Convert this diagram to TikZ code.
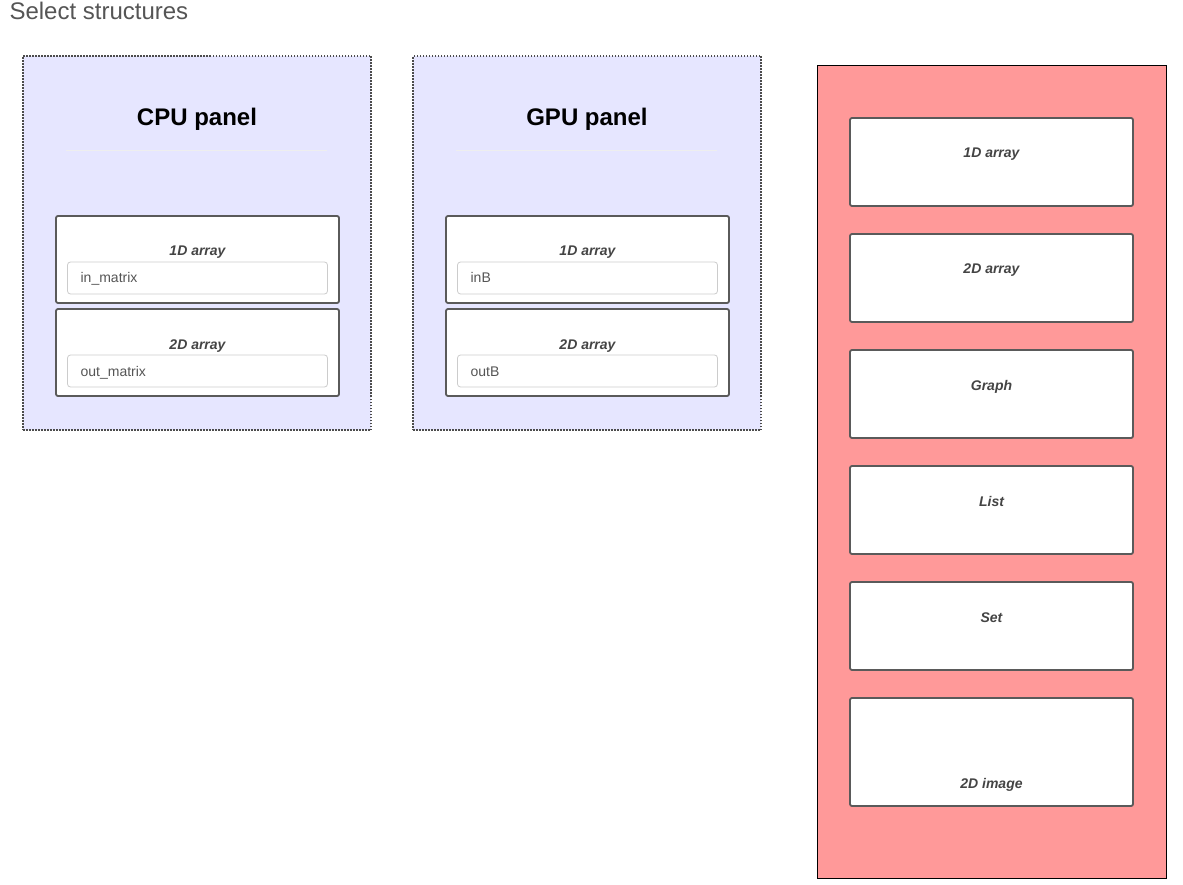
\documentclass[tikz,border=0pt]{standalone}
\usepackage{fontspec}
\setmainfont{Liberation Sans}
\usetikzlibrary{positioning}
\definecolor{panelblue}{HTML}{E6E6FF}
\definecolor{panelred}{HTML}{FF9999}
\definecolor{cardline}{HTML}{5A5A5A}
\definecolor{fieldline}{HTML}{CCCCCC}
\definecolor{textgray}{HTML}{555555}
\definecolor{labelgray}{HTML}{444444}
\definecolor{rulegray}{HTML}{EEEEEE}
\begin{document}
\begin{tikzpicture}[x=1pt, y=-1pt, node distance=6pt,
	panel/.style={rectangle, draw=textgray!90!black, line width=1.5pt, dash pattern=on 1.5pt off 1.5pt, fill=panelblue, minimum width=348pt, minimum height=374pt, anchor=north west, inner sep=0pt, outer sep=0pt},
	paneltitle/.style={anchor=base, font=\fontsize{24}{28}\selectfont\bfseries},
	card/.style={rectangle, draw=cardline, line width=1.8pt, rounded corners=2pt, fill=white, minimum width=283pt, minimum height=87pt, inner sep=0pt, outer sep=0pt},
	cardlabel/.style={anchor=base, text=labelgray, font=\fontsize{14}{16}\selectfont\bfseries\itshape},
	field/.style={rectangle, draw=fieldline, line width=0.8pt, rounded corners=3pt, fill=white, minimum width=260pt, minimum height=32pt, inner sep=0pt},
	fieldtext/.style={text=textgray, font=\fontsize{14}{16}\selectfont, anchor=base west}]
	\useasboundingbox (0,0) rectangle (1183,885);
	% Title
	\node [anchor=base west, text=textgray, font=\fontsize{24}{28}\selectfont] (title) at (6,20) {Select structures};

	% CPU panel
	\node [panel] (cpu) at (23,56) {};
	\node [paneltitle] (cputitle) at ([yshift=-70pt]cpu.north) {CPU panel};
	\draw [rulegray, line width=1pt] ([xshift=43pt,yshift=-95pt]cpu.north west) -- ([xshift=-44pt,yshift=-95pt]cpu.north east);
	\node [card, anchor=north west] (cpu1) at (56,216) {};
	\node [cardlabel] (cpu1lbl) at ([yshift=-40pt]cpu1.north) {1D array};
	\node [field] (cpu1fld) at ([yshift=-62pt]cpu1.north) {};
	\node [fieldtext] (cpu1txt) at ([xshift=10pt,yshift=-5pt]cpu1fld.west) {in\_matrix};
	\node [card, below=6pt of cpu1] (cpu2) {};
	\node [cardlabel] (cpu2lbl) at ([yshift=-40pt]cpu2.north) {2D array};
	\node [field] (cpu2fld) at ([yshift=-62pt]cpu2.north) {};
	\node [fieldtext] (cpu2txt) at ([xshift=10pt,yshift=-5pt]cpu2fld.west) {out\_matrix};

	% GPU panel
	\node [panel] (gpu) at (413,56) {};
	\node [paneltitle] (gputitle) at ([yshift=-70pt]gpu.north) {GPU panel};
	\draw [rulegray, line width=1pt] ([xshift=43pt,yshift=-95pt]gpu.north west) -- ([xshift=-44pt,yshift=-95pt]gpu.north east);
	\node [card, anchor=north west] (gpu1) at (446,216) {};
	\node [cardlabel] (gpu1lbl) at ([yshift=-40pt]gpu1.north) {1D array};
	\node [field] (gpu1fld) at ([yshift=-62pt]gpu1.north) {};
	\node [fieldtext] (gpu1txt) at ([xshift=10pt,yshift=-5pt]gpu1fld.west) {inB};
	\node [card, below=6pt of gpu1] (gpu2) {};
	\node [cardlabel] (gpu2lbl) at ([yshift=-40pt]gpu2.north) {2D array};
	\node [field] (gpu2fld) at ([yshift=-62pt]gpu2.north) {};
	\node [fieldtext] (gpu2txt) at ([xshift=10pt,yshift=-5pt]gpu2fld.west) {outB};

	% Structure palette
	\node [rectangle, draw=black, line width=1pt, fill=panelred, minimum width=349pt, minimum height=813pt, anchor=north west, inner sep=0pt] (palette) at (817,65) {};
	\node [card, minimum height=88pt, anchor=north west] (pal1) at (850,118) {};
	\node [card, minimum height=88pt, below=28pt of pal1] (pal2) {};
	\node [card, minimum height=88pt, below=28pt of pal2] (pal3) {};
	\node [card, minimum height=88pt, below=28pt of pal3] (pal4) {};
	\node [card, minimum height=88pt, below=28pt of pal4] (pal5) {};
	\node [card, minimum height=108pt, below=28pt of pal5] (pal6) {};
	\node [cardlabel] (pal1lbl) at ([yshift=-40pt]pal1.north) {1D array};
	\node [cardlabel] (pal2lbl) at ([yshift=-40pt]pal2.north) {2D array};
	\node [cardlabel] (pal3lbl) at ([yshift=-40pt]pal3.north) {Graph};
	\node [cardlabel] (pal4lbl) at ([yshift=-40pt]pal4.north) {List};
	\node [cardlabel] (pal5lbl) at ([yshift=-40pt]pal5.north) {Set};
	\node [cardlabel] (pal6lbl) at ([yshift=18pt]pal6.south) {2D image};
\end{tikzpicture}
\end{document}
